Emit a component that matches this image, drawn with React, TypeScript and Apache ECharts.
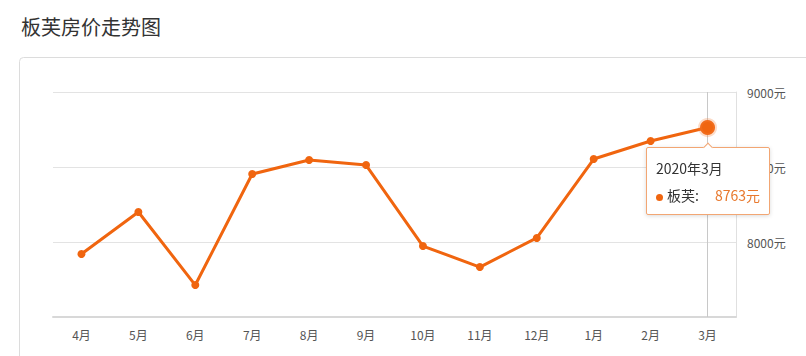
import React, { useEffect, useRef } from "react";
import * as echarts from "echarts";

const months = ["4月", "5月", "6月", "7月", "8月", "9月", "10月", "11月", "12月", "1月", "2月", "3月"];
const prices = [7920, 8200, 7713, 8453, 8547, 8513, 7973, 7833, 8027, 8553, 8673, 8763];
const seriesName = "板芙";
const tipTitle = "2020年3月";
const title = "板芙房价走势图";
const yMin = 7500;
const yMax = 9000;
const yStep = 500;

const ORANGE = "#f0650f";
const FONT = "'Noto Sans CJK SC', 'Noto Sans', sans-serif";

export default function App() {
  const ref = useRef<HTMLDivElement>(null);
  useEffect(() => {
    if (!ref.current) return;
    document.body.style.margin = "0";
    const chart = echarts.init(ref.current, undefined, { renderer: "svg" });
    const last = prices.length - 1;
    const data = prices.map((v, i) =>
      i === last
        ? {
            value: v,
            symbolSize: 15,
            itemStyle: { color: ORANGE, borderColor: "rgba(245,130,60,0.28)", borderWidth: 4 },
          }
        : v
    );
    chart.setOption({
      animation: false,
      backgroundColor: "#fff",
      textStyle: { fontFamily: FONT },
      title: {
        text: title,
        left: 16,
        top: 11,
        textStyle: { fontSize: 20, fontWeight: "normal", color: "#333", fontFamily: FONT },
      },
      graphic: [
        {
          type: "rect",
          z: -10,
          shape: { x: 19.5, y: 57.5, width: 800, height: 320, r: 4 },
          style: { fill: "#fff", stroke: "#dcdcdc", lineWidth: 1 },
        },
      ],
      grid: { left: 53, right: 70, top: 92, bottom: 39 },
      tooltip: {
        trigger: "item",
        position: "bottom",
        alwaysShowContent: true,
        transitionDuration: 0,
        backgroundColor: "#fff",
        borderColor: "#f2a673",
        borderWidth: 1,
        padding: [6, 9, 6, 9],
        extraCssText: "box-shadow: 0 1px 4px rgba(0,0,0,0.15); border-radius: 2px;",
        textStyle: { fontFamily: FONT, fontSize: 14, color: "#333" },
        formatter: (p: any) =>
          `<div style="line-height:28px">${tipTitle}</div>` +
          `<div style="line-height:26px"><span style="display:inline-block;width:7px;height:7px;border-radius:50%;background:${ORANGE};margin-right:4px;vertical-align:middle"></span>` +
          `${seriesName}:<span style="display:inline-block;width:16px"></span><span style="color:#e8792e;font-size:14px">${p.value}元</span></div>`,
      },
      xAxis: {
        type: "category",
        data: months,
        boundaryGap: true,
        axisLine: { lineStyle: { color: "#d8d8d8", width: 2 } },
        axisTick: { alignWithLabel: true, length: 4, lineStyle: { color: "#d8d8d8" } },
        axisLabel: { color: "#555", fontSize: 12, margin: 11, fontFamily: FONT },
        splitLine: { show: false },
      },
      yAxis: {
        type: "value",
        position: "right",
        min: yMin,
        max: yMax,
        interval: yStep,
        axisLine: { show: true, lineStyle: { color: "#e0e0e0", width: 1 } },
        axisTick: { show: false },
        axisLabel: {
          color: "#555",
          fontSize: 12,
          margin: 11,
          showMinLabel: false,
          formatter: (v: number) => `${v}元`,
          fontFamily: FONT,
        },
        splitLine: { lineStyle: { color: "#e3e3e3", width: 1 } },
      },
      series: [
        {
          name: seriesName,
          type: "line",
          data,
          symbol: "circle",
          symbolSize: 8,
          itemStyle: { color: ORANGE },
          lineStyle: { color: ORANGE, width: 3 },
          emphasis: { disabled: true },
          markLine: {
            silent: true,
            symbol: "none",
            label: { show: false },
            lineStyle: { color: "#c8c8c8", width: 1, type: "solid" },
            data: [{ xAxis: months[last] }],
            z: 1,
          },
        },
      ],
    });
    chart.dispatchAction({ type: "showTip", seriesIndex: 0, dataIndex: last });
    return () => chart.dispose();
  }, []);
  return <div ref={ref} style={{ width: 806, height: 356 }} />;
}
